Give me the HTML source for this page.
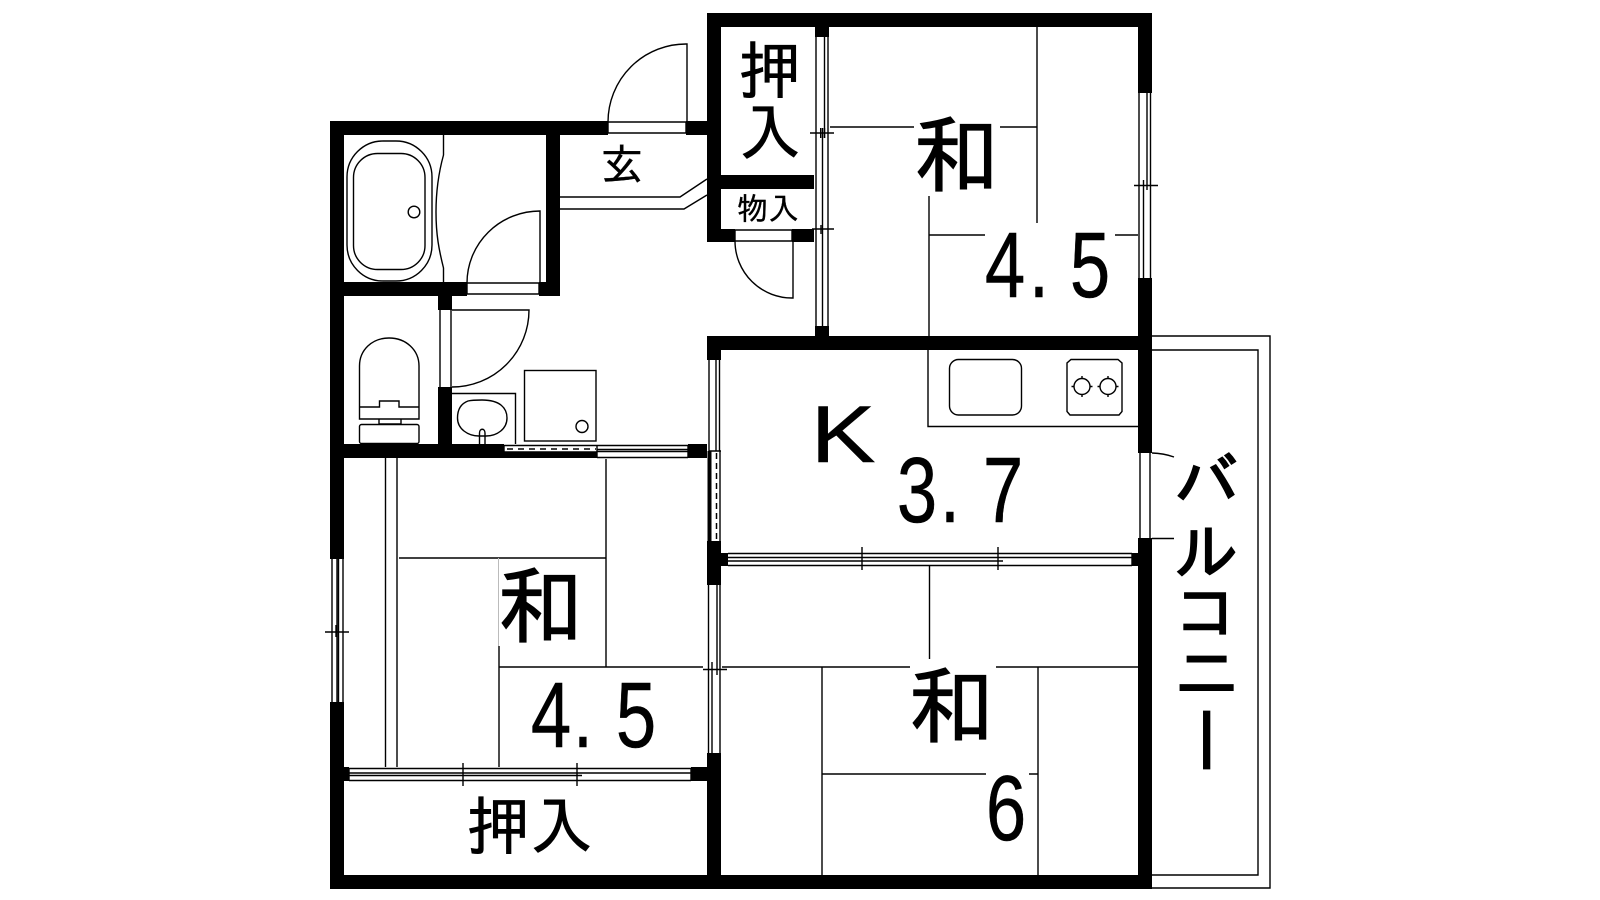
<!DOCTYPE html>
<html><head><meta charset="utf-8">
<style>
html,body{margin:0;padding:0;background:#fff}
svg{display:block}
text{font-family:"IPAGothic","Liberation Sans","Noto Sans CJK JP",sans-serif;fill:#000;stroke:#000;stroke-width:1.2;text-anchor:middle}
.n{font-family:"Liberation Sans",sans-serif;stroke-width:.5}
.k{stroke-width:1.7}
.s{stroke-width:.3}
.l{fill:none;stroke:#000;stroke-width:1.4}
</style></head><body>
<svg width="1600" height="900" viewBox="0 0 1600 900" xmlns="http://www.w3.org/2000/svg">
<rect width="1600" height="900" fill="#fff"/>

<!-- balcony -->
<path class="l" d="M1152 336H1270V888H1152M1152 350H1258V875H1152"/>

<!-- walls -->
<g fill="#000">
<rect x="330" y="121" width="14" height="438"/>
<rect x="330" y="702" width="14" height="187"/>
<rect x="330" y="875" width="822" height="14"/>
<rect x="330" y="121" width="278" height="14"/>
<rect x="686" y="121" width="21" height="14"/>
<rect x="546" y="121" width="14" height="175"/>
<rect x="330" y="282" width="137" height="14"/>
<rect x="539" y="282" width="21" height="14"/>
<rect x="707" y="13" width="14" height="229"/>
<rect x="707" y="13" width="445" height="14"/>
<rect x="721" y="175" width="93" height="14"/>
<rect x="707" y="229" width="28" height="13"/>
<rect x="792" y="229" width="22" height="13"/>
<rect x="815" y="27" width="14" height="10"/>
<rect x="815" y="326" width="14" height="10"/>
<rect x="1138" y="13" width="14" height="80"/>
<rect x="1138" y="278" width="14" height="175"/>
<rect x="1138" y="538" width="14" height="351"/>
<rect x="707" y="336" width="445" height="14"/>
<rect x="707" y="336" width="14" height="24"/>
<rect x="707" y="541" width="14" height="44"/>
<rect x="707" y="553" width="21" height="13"/>
<rect x="1132" y="553" width="8" height="13"/>
<rect x="707" y="753" width="14" height="136"/>
<rect x="438" y="296" width="14" height="14"/>
<rect x="438" y="387" width="14" height="60"/>
<rect x="330" y="444" width="174" height="14"/>
<rect x="504" y="452" width="93" height="6"/>
<rect x="688" y="444" width="19" height="14"/>
<rect x="344" y="767" width="5" height="14"/>
<rect x="691" y="767" width="16" height="14"/>
</g>

<!-- entry door -->
<path class="l" d="M608 122H686V133H608ZM608 122A78 78 0 0 1 687 44V122"/>
<!-- bath door -->
<path class="l" d="M467 283H539V294H467ZM467 283A73 72 0 0 1 540 211V283"/>
<!-- storage door -->
<path class="l" d="M735 230H792V241H735ZM735 241A57 57 0 0 0 793 298V241"/>
<!-- toilet door -->
<path class="l" d="M440 310V387M451 310V387M452 310H529A77 77 0 0 1 452 387"/>
<!-- genkan step -->
<path class="l" d="M560 197H680L707 179M560 209H684L707 195"/>

<!-- bath -->
<rect class="l" x="347" y="141" width="85" height="140" rx="36" ry="36"/>
<rect class="l" x="353.500" y="153.500" width="71.500" height="116" rx="24" ry="24"/>
<circle class="l" cx="414" cy="212" r="5.800"/>
<path class="l" d="M443.500 135V155C438 175 436 195 436 212C436 235 439 250 443.500 268V282"/>

<!-- toilet -->
<path class="l" d="M359.500 419V366C359.500 350 372 338 389 338C406 338 419 350 419 366V419Z"/>
<path class="l" d="M359.500 407H379.500V401H399V407H419"/>
<path class="l" d="M379 419V424M401 419V424M379 424H401"/>
<rect class="l" x="359.500" y="424.500" width="59.500" height="19" rx="2"/>

<!-- sink -->
<path class="l" d="M452 393.500H515.500V444"/>
<path class="l" d="M468 401C460 404 457.500 411 457.500 418C457.500 429 468 436 479 436H486C497 436 507 429 507 418C507 408 500 400 482 400C476 400 472 400 468 401Z"/>
<path fill="#fff" class="l" d="M479.500 444V433C479.500 428 485 428 485 433V444"/>
<!-- washer -->
<rect class="l" x="524.500" y="370.500" width="71.500" height="70.500"/>
<circle class="l" cx="582" cy="426.500" r="6"/>

<!-- sliding door bath-room -->
<path class="l" d="M504 445.500H688M504 452H597M597 449.500H688M597 451.500H688M597 457.500H688M597 445V458M688 445V458"/>
<path d="M507 449H596" stroke="#000" stroke-width="1.600" stroke-dasharray="6 5" fill="none"/>
<path class="l" d="M504 445V452"/>

<!-- upper left sliding -->
<path class="l" d="M816 37V326M828 37V326M822.500 128V326M824.500 37V138"/>
<path class="l" d="M810 133H834M820.700 128V138M824.500 128V138M812 229H834M821 225V234"/>

<!-- upper right window -->
<path class="l" d="M1139 93V278M1150.500 93V278M1147 93V190M1143.500 180V278M1134 185.500H1158"/>

<!-- K left window -->
<path class="l" d="M709 360V451M719.500 360V451M716 360V451M709 451H721"/>
<rect x="707.500" y="451" width="4" height="91" fill="#000"/>
<path class="l" d="M720 451V541"/>
<path d="M716.500 453V540" stroke="#000" stroke-width="1.500" stroke-dasharray="6 4" fill="none"/>

<!-- K right door -->
<path class="l" d="M1140 453V538M1150 453V538M1152 453A70 70 0 0 1 1174 457M1152 538.500H1174"/>

<!-- K bottom sliding -->
<path class="l" d="M728 553.500H1132M728 557.500H862M728 561H998M998 557.500H1132M862 557.500H998M728 565.500H1132M862 547V570M998 547V570M858 557.500H867M858 561H867M994 557.500H1003M994 561H1003M1132 553V566"/>

<!-- K counter -->
<path class="l" d="M928 350V426.500H1138"/>
<rect class="l" x="949.500" y="359.500" width="72" height="55.500" rx="9"/>
<path class="l" d="M1071 359.500H1118L1122 363V411.500L1119 415H1070L1067 411.500V363Z"/>
<circle class="l" cx="1082" cy="386.500" r="8"/>
<circle class="l" cx="1108" cy="386.500" r="8"/>
<path class="l" d="M1071.500 386.500H1074M1090 386.500H1092.500M1082 376V378.500M1082 394.500V397M1097.500 386.500H1100M1116 386.500H1118.500M1108 376V378.500M1108 394.500V397"/>

<!-- lower-left window -->
<path class="l" d="M332 559V702M343 559V702M337 559V702M338.500 559V702M325 632H349M336 625V637M338.500 625V637"/>
<!-- closet strip -->
<path class="l" d="M385.500 458V767M397 458V767"/>
<!-- closet sliding -->
<path class="l" d="M349 768.500H691M349 773H463M349 775.500H577M463 773H691M349 780.500H691M463 763V786M577 763V786M459 773H468M459 775.500H468M573 773H582M573 775.500H582M349 768V781M691 768V781"/>
<!-- wall between lower rooms -->
<path class="l" d="M708.500 585V753M720 585V753M717 585V675M712 662V753M703 669.500H727M712 663V675M717 663V675"/>

<!-- tatami -->
<path class="l" d="M830 127H914M1000 127H1037M1037 27V223M929 196V336M929 235H985M1115 235H1138"/>
<path class="l" d="M606 459V667M399 558H606M499 667H703M722 667H910M996 667H1138M499 646V767"/>
<path d="M498.500 558V646" stroke="#bbb" stroke-width="1" fill="none"/>
<path class="l" d="M929.500 566V659M822 667V875M822 774H986M1029 774H1038M1038 667V875"/>

<!-- labels -->
<text x="770" y="93" font-size="62" style="stroke-width:.9">押</text>
<text x="770" y="155" font-size="62" style="stroke-width:.9">入</text>
<text class="s" x="622" y="180" font-size="43">玄</text>
<text class="s" x="768" y="220" font-size="31">物入</text>
<text x="956" y="185" font-size="86">和</text>
<text x="540" y="636" font-size="86">和</text>
<text x="951" y="736" font-size="86">和</text>
<text x="530" y="849" font-size="63" style="stroke-width:.9">押入</text>
<text class="k" x="1206.500" y="505" font-size="64">バ</text>
<text class="k" x="1206.500" y="575" font-size="64">ル</text>
<text class="k" x="1206.500" y="635" font-size="64">コ</text>
<text class="k" x="1206.500" y="697" font-size="66">ニ</text>
<text class="k" transform="translate(1206 740) rotate(90)" font-size="70" y="26">ー</text>

<text class="n" transform="translate(843 462) scale(1.2 1)" font-size="81">K</text>
<g font-size="93">
<text class="n" transform="translate(917 522) scale(.78 1)">3</text>
<text class="n" transform="translate(950 522) scale(.78 1)">.</text>
<text class="n" transform="translate(1003 522) scale(.78 1)">7</text>
<text class="n" transform="translate(1005 297) scale(.78 1)">4</text>
<text class="n" transform="translate(1039 297) scale(.78 1)">.</text>
<text class="n" transform="translate(1090 297) scale(.78 1)">5</text>
<text class="n" transform="translate(551 747) scale(.78 1)">4</text>
<text class="n" transform="translate(583 747) scale(.78 1)">.</text>
<text class="n" transform="translate(636 747) scale(.78 1)">5</text>
<text class="n" transform="translate(1006 840) scale(.78 1)">6</text>
</g>
</svg>
</body></html>
